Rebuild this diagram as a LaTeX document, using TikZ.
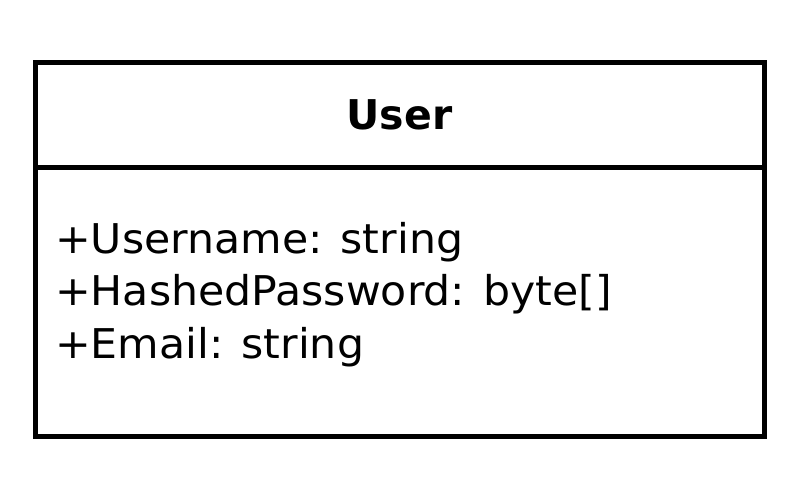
\documentclass[tikz,border=0pt]{standalone}
\usepackage{fontspec}
\setmainfont{DejaVu Sans}
\newfontfamily\attrfont[FakeStretch=1.04]{DejaVu Sans}
\usetikzlibrary{positioning}
\tikzset{
  classbox/.style={draw=black, line width=5pt, minimum width=729pt, inner sep=0pt, outer sep=0pt},
  attrtext/.style={anchor=base west, inner sep=0pt, font=\attrfont\fontsize{41}{52}\selectfont},
}
\begin{document}
\begin{tikzpicture}[x=1pt,y=-1pt]
\useasboundingbox (0,0) rectangle (800,500);
\node[classbox, minimum height=105pt, font=\bfseries\fontsize{41}{52}\selectfont] (user) at (399.5,115) {User};
\node[classbox, minimum height=268.5pt, below=0pt of user] (fields) {};
\foreach \txt [count=\i] in {{+Username: string},{+HashedPassword: byte[]},{+Email: string}}
  \node[attrtext] (attr\i) at (55,253+52.5*\i-52.5) {\txt};
\end{tikzpicture}
\end{document}
